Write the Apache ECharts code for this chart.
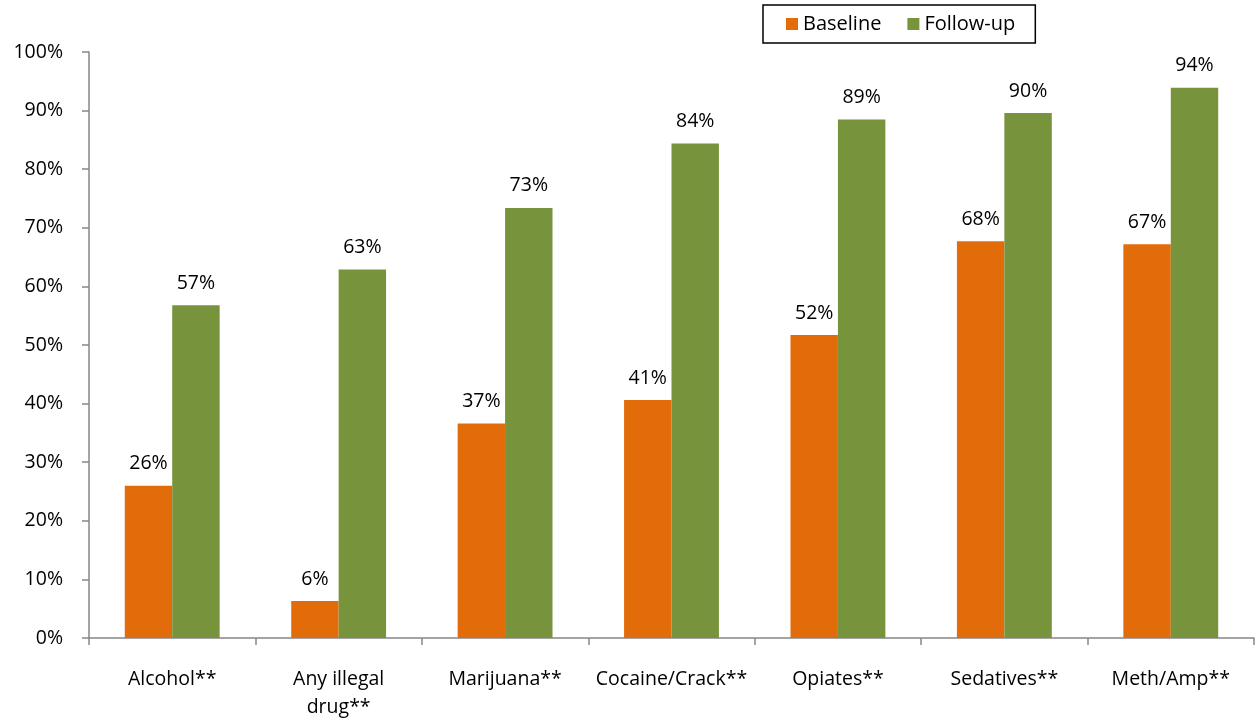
<!DOCTYPE html>
<html><head><meta charset="utf-8">
<script src="https://cdn.jsdelivr.net/npm/echarts@6/dist/echarts.min.js"></script>
<style>html,body{margin:0;padding:0;background:#fff}#c{width:1255px;height:721px}</style>
</head><body><div id="c"></div>
<script>
const categories = ['Alcohol**', 'Any illegal\ndrug**', 'Marijuana**', 'Cocaine/Crack**', 'Opiates**', 'Sedatives**', 'Meth/Amp**'];
const baseline = [26.0, 6.3, 36.6, 40.6, 51.7, 67.7, 67.2];
const followUp = [56.8, 62.9, 73.4, 84.4, 88.5, 89.6, 93.9];
const yTicks = [0, 10, 20, 30, 40, 50, 60, 70, 80, 90, 100];

const FONT = "'Open Sans', 'Liberation Sans', sans-serif";
const chart = echarts.init(document.getElementById('c'), null, {renderer: 'canvas'});
const lbl = {show: true, position: 'top', distance: 12, color: '#000', fontSize: 19.5, fontFamily: FONT,
  formatter: p => Math.round(p.value) + '%'};
chart.setOption({
  animation: false,
  textStyle: {fontFamily: FONT},
  legend: {
    top: 5, left: 763,
    padding: [9, 20, 9, 23],
    itemGap: 26, itemWidth: 12, itemHeight: 12,
    borderColor: '#000', borderWidth: 1.5,
    icon: 'rect',
    textStyle: {color: '#000', fontSize: 20, fontFamily: FONT},
    data: ['Baseline', 'Follow-up']
  },
  grid: {left: 89, right: 1, top: 52, bottom: 81, containLabel: false},
  xAxis: {
    type: 'category', data: categories,
    axisLine: {lineStyle: {color: '#868686', width: 1.5}},
    axisTick: {show: true, length: 7, alignWithLabel: false, lineStyle: {color: '#868686', width: 1.5}},
    axisLabel: {color: '#000', fontSize: 19.5, fontFamily: FONT, margin: 27, lineHeight: 28, interval: 0}
  },
  yAxis: {
    type: 'value', min: 0, max: 100, interval: 10,
    axisLine: {show: true, lineStyle: {color: '#868686', width: 1.5}},
    axisTick: {show: true, length: 7, lineStyle: {color: '#868686', width: 1.5}},
    splitLine: {show: false},
    axisLabel: {color: '#000', fontSize: 19.5, fontFamily: FONT, margin: 26,
      formatter: v => yTicks.includes(v) ? v + '%' : ''}
  },
  series: [
    {name: 'Baseline', type: 'bar', data: baseline, barGap: '0%', barCategoryGap: '43%',
     itemStyle: {color: '#E36C0A'}, label: lbl},
    {name: 'Follow-up', type: 'bar', data: followUp,
     itemStyle: {color: '#77933C'}, label: lbl}
  ]
});
</script></body></html>
